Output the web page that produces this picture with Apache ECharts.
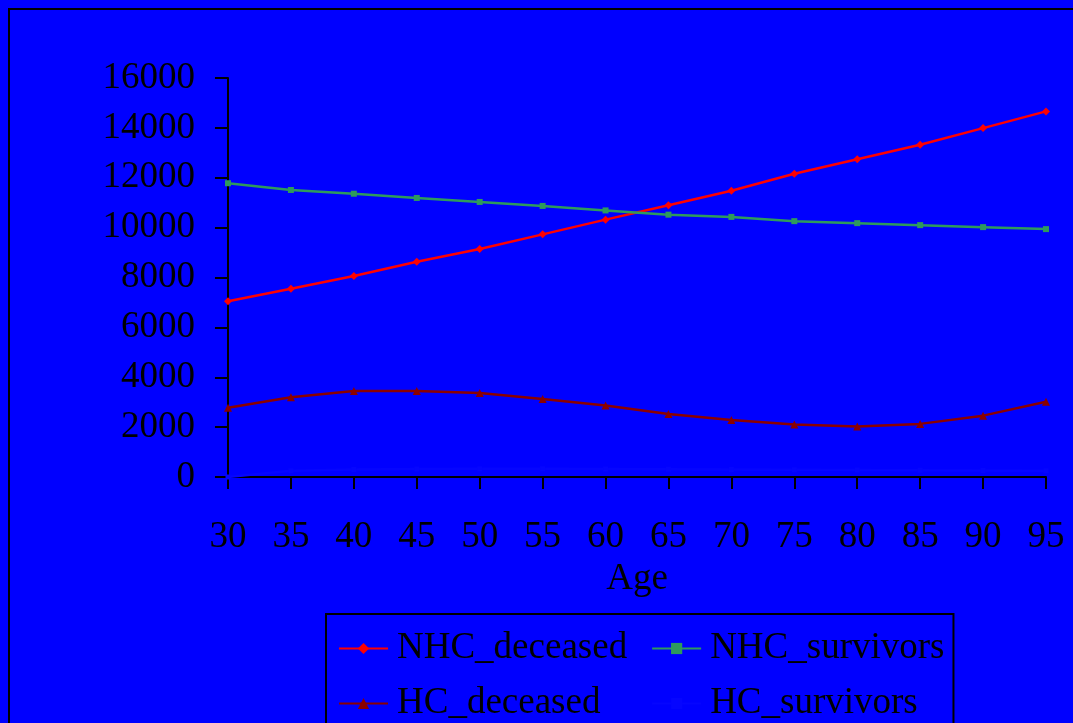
<!DOCTYPE html>
<html>
<head>
<meta charset="utf-8">
<style>
  html, body { margin: 0; padding: 0; background: #0000ff; }
  #chart { width: 1073px; height: 723px; }
</style>
<script src="https://cdn.jsdelivr.net/npm/echarts@6/dist/echarts.min.js"></script>
</head>
<body>
<div id="chart"></div>
<script>
// Age groups on the horizontal axis
const ages = ['30', '35', '40', '45', '50', '55', '60', '65', '70', '75', '80', '85', '90', '95'];

// Counts per age group
const nhcDeceased  = [7050, 7550, 8060, 8630, 9140, 9730, 10320, 10900, 11480, 12160, 12740, 13320, 13990, 14660];
const nhcSurvivors = [11780, 11510, 11360, 11190, 11030, 10870, 10690, 10520, 10430, 10260, 10180, 10100, 10020, 9940];
const hcDeceased   = [2780, 3200, 3450, 3450, 3370, 3130, 2870, 2530, 2290, 2110, 2030, 2130, 2460, 3020];
const hcSurvivors  = [0, 250, 300, 320, 330, 330, 320, 310, 300, 290, 280, 270, 260, 250];

// Value axis range
const yMin = 0;
const yMax = 16000;
const yStep = 2000;

const FONT = 'Liberation Serif';
const FS = 37;

const chart = echarts.init(document.getElementById('chart'), null, { renderer: 'canvas' });

function lineSeries(name, data, color, symbol, size) {
  return {
    name: name,
    type: 'line',
    data: data,
    symbol: symbol,
    symbolSize: size,
    showSymbol: true,
    lineStyle: { color: color, width: 2.5 },
    itemStyle: { color: color, borderWidth: 0 },
    emphasis: { disabled: true },
    z: 3
  };
}

chart.setOption({
  animation: false,
  backgroundColor: '#0000ff',
  textStyle: { fontFamily: FONT, color: '#000' },
  graphic: [{
    type: 'rect',
    shape: { x: 9, y: 9, width: 1200, height: 900 },
    style: { fill: 'none', stroke: '#000', lineWidth: 2 },
    silent: true,
    z: 0
  }],
  grid: { left: 228, right: 27, top: 78, bottom: 246, containLabel: false },
  xAxis: {
    type: 'category',
    data: ages,
    boundaryGap: false,
    name: 'Age',
    nameLocation: 'middle',
    nameGap: 80,
    nameTextStyle: { fontFamily: FONT, fontSize: FS, color: '#000' },
    axisLine: { show: true, lineStyle: { color: '#000', width: 2 } },
    axisTick: { show: true, length: 12, lineStyle: { color: '#000', width: 2 }, alignWithLabel: true },
    axisLabel: { fontFamily: FONT, fontSize: FS, color: '#000', margin: 42 },
    splitLine: { show: false }
  },
  yAxis: {
    type: 'value',
    min: yMin,
    max: yMax,
    interval: yStep,
    axisLine: { show: true, lineStyle: { color: '#000', width: 2 } },
    axisTick: { show: true, length: 13, lineStyle: { color: '#000', width: 2 } },
    axisLabel: { fontFamily: FONT, fontSize: FS, color: '#000', margin: 33, formatter: v => String(v) },
    splitLine: { show: false }
  },
  legend: {
    orient: 'vertical',
    left: 326,
    top: 614,
    height: 100,
    padding: [16, 3, 60, 12],
    itemGap: 18,
    itemWidth: 49,
    itemHeight: 14,
    borderColor: '#000',
    borderWidth: 2,
    backgroundColor: 'transparent',
    selectedMode: false,
    textStyle: { fontFamily: FONT, fontSize: FS, color: '#000', lineHeight: 33, padding: [0, 6, 0, 4] },
    data: ['NHC_deceased', 'HC_deceased', 'NHC_survivors', 'HC_survivors']
  },
  series: [
    lineSeries('NHC_deceased', nhcDeceased, '#ff0000', 'diamond', 8),
    lineSeries('NHC_survivors', nhcSurvivors, '#2e9a5c', 'rect', 6),
    lineSeries('HC_deceased', hcDeceased, '#8b0000', 'triangle', 8),
    lineSeries('HC_survivors', hcSurvivors, '#0505ff', 'rect', 5)
  ]
});
</script>
</body>
</html>
